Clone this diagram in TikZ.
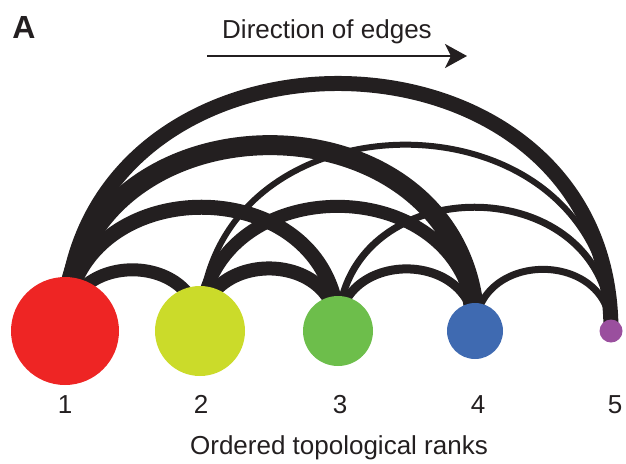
\documentclass[tikz,border=0pt]{standalone}
\usepackage{fontspec}
\setmainfont{Liberation Sans}
\usetikzlibrary{arrows.meta,backgrounds}
\definecolor{rankred}{HTML}{EE2524}
\definecolor{rankyellow}{HTML}{CBDB2A}
\definecolor{rankgreen}{HTML}{6DBE4B}
\definecolor{rankblue}{HTML}{3F6AB1}
\definecolor{rankpurple}{HTML}{9A4F9E}
\definecolor{edgeblack}{HTML}{231F20}
\tikzset{
  rank/.style={circle, inner sep=0pt, draw=none},
  ranklabel/.style={anchor=base, font=\fontsize{13}{15}\selectfont, text=edgeblack},
}
\begin{document}
\begin{tikzpicture}[x=0.5pt,y=0.5pt]
\useasboundingbox (0,0) rectangle (626,463);
\node[anchor=base west, inner sep=0pt, font=\bfseries\fontsize{16}{18}\selectfont, text=edgeblack] (panel) at (12,425) {A};
\node[ranklabel] (dirtext) at (327,425) {Direction of edges};
\coordinate (dirstart) at (207,407);
\coordinate (dirend) at (467,407);
\draw[-{Stealth[length=11pt,width=12pt,inset=3pt]}, line width=1.3pt, edgeblack] (dirstart) -- (dirend);
% ranks
\node[rank, fill=rankred, minimum size=54pt] (n1) at (65,132) {};
\node[rank, fill=rankyellow, minimum size=45pt] (n2) at (200,132) {};
\node[rank, fill=rankgreen, minimum size=35pt] (n3) at (338,132) {};
\node[rank, fill=rankblue, minimum size=28pt] (n4) at (475,132) {};
\node[rank, fill=rankpurple, minimum size=11.5pt] (n5) at (611,132) {};
\node[ranklabel] (l1) at (65,50) {1};
\node[ranklabel] (l2) at (201,50) {2};
\node[ranklabel] (l3) at (340,50) {3};
\node[ranklabel] (l4) at (478,50) {4};
\node[ranklabel] (l5) at (615,50) {5};
\node[ranklabel] (axis) at (339,9) {Ordered topological ranks};
% edges, width = weight
\begin{scope}[on background layer]
\foreach \a/\b/\w in {n1/n2/6.5, n1/n3/7.5, n1/n4/10, n1/n5/7.5, n2/n3/7, n2/n4/6.5, n2/n5/3, n3/n4/4.5, n3/n5/3.5, n4/n5/3.5}
  \draw[edgeblack, line width=\w pt] (\a.center) to[out=90, in=90, looseness=1.55] (\b.center);
\end{scope}
\end{tikzpicture}
\end{document}
